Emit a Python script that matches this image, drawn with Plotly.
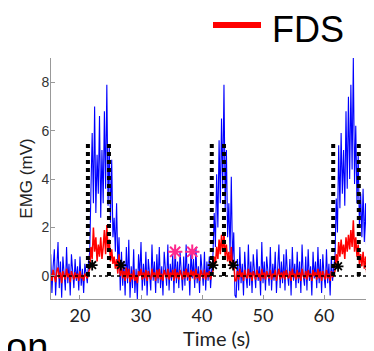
import plotly.graph_objects as go

# ---- data (time step 0.2 s inside each segment) ----
seg_starts = [15.2, 21.6, 27.2, 41.8, 45.6, 61.8, 67.8]

blue_a = [0.9, -0.7, 0.4, 1.1, -0.8, 0.2, 1.4, -0.5, 0.6, -0.9, 0.8, 0.1, -0.6, 1.2, -0.3, 0.5,
          -0.8, 0.9, 0.0, -0.5, 0.7, -0.2, 0.4, -0.6, 0.8, -0.4, 0.3, -0.7, 0.5, 0.1, -0.3, 0.6]
blue_b = [1.0, 3.6, 5.9, 3.0, 7.0, 2.6, 5.0, 3.4, 6.6, 2.4, 5.2, 3.0, 6.8, 3.6, 7.9, 2.9, 5.4, 2.2,
          4.8, 1.6, 2.4, 1.0, 3.0, 0.5, 1.6, -0.6, 1.0, -0.4]
blue_c = [0.6, -0.8, 1.2, -0.3, 1.5, -0.9, 0.4, -0.5, 1.1, -0.7,
          0.3, -0.95, 0.9, 0.0, 1.4, -0.6, 0.5, -0.4, 1.0, -0.8,
          0.7, 0.1, -0.6, 1.3, -0.2, 0.6, -0.7, 0.9, -0.3, 1.2,
          -0.5, 0.4, -0.8, 1.0, 0.2, -0.4, 1.3, -0.6, 0.5, -0.2,
          0.9, -0.7, 1.2, -0.3, 0.6, -0.5, 1.0, 0.0, -0.6, 0.8,
          -0.4, 1.3, -0.2, 0.5, -0.8, 1.1, -0.1, 0.7, -0.5, 1.2,
          -0.3, 0.4, -0.7, 0.9, 0.1, -0.4, 1.0, -0.6, 0.6, -0.2,
          0.8, -0.5, 0.3]
blue_d = [0.9, 2.6, 1.2, 4.2, 2.0, 5.6, 3.0, 6.5, 3.6, 7.9, 2.8, 5.2, 1.6, 3.0, 0.9, 4.1, 0.6, 1.8, -0.8]
blue_e = [-0.9, 0.7, -0.6, 1.2, -0.3, 0.5, -0.8, 1.0, 0.0, -0.5,
          1.3, -0.4, 0.6, -0.7, 0.9, 0.1, -0.5, 1.1, -0.2, 0.4,
          -0.8, 1.4, -0.3, 0.6, -0.6, 0.8, 0.0, -0.4, 1.2, -0.6,
          0.5, -0.2, 1.0, -0.7, 0.3, 1.3, -0.5, 0.6, -0.3, 0.9,
          -0.6, 1.1, 0.1, -0.4, 0.7, -0.8, 1.2, -0.2, 0.5, -0.5,
          1.0, -0.3, 0.6, -0.7, 1.3, 0.0, -0.4, 0.8, -0.6, 1.1,
          -0.2, 0.4, -0.8, 1.0, -0.1, 0.6, -0.5, 1.2, -0.3, 0.7,
          -0.7, 0.9, 0.0, -0.5, 1.1, -0.3, 0.5, -0.8, 0.8, -0.2,
          0.4]
blue_f = [0.8, 3.2, 1.8, 5.4, 2.8, 5.9, 3.4, 5.2, 2.9, 6.8, 3.6, 7.4, 4.0, 7.9, 4.4, 9.0, 3.8, 6.2,
          3.0, 5.0, 2.0, 3.4, 1.6, 3.6, 1.4, 3.0, 0.9, 2.4, 0.3, 1.2]
blue_g = [-0.4, 0.8, -0.2, 0.5, -0.6, 0.9, 0.1, -0.3, 0.6]

red_a = [0.1, -0.2, 0.25, 0.05, -0.25, 0.2, 0.35, -0.1, 0.15, -0.3, 0.2, 0.0, -0.15, 0.3, -0.05, 0.1,
         -0.25, 0.2, 0.05, -0.15, 0.15, -0.1, 0.1, -0.2, 0.2, -0.1, 0.05, -0.2, 0.1, 0.0, -0.1, 0.15]
red_b = [0.3, 1.2, 0.7, 2.0, 1.0, 1.6, 0.6, 1.3, 0.8, 1.6, 0.7, 1.2, 1.9, 0.9, 2.1, 1.0, 1.5, 0.6,
         1.1, 0.5, 0.8, 0.3, 0.7, 0.1, 0.9, 0.0, 0.4, -0.1]
red_c = [0.2, -0.2, 0.35, -0.1, 0.3, -0.25, 0.1, -0.15, 0.25, -0.2,
         0.05, -0.3, 0.2, 0.0, 0.3, -0.15, 0.15, -0.1, 0.25, -0.2,
         0.2, 0.0, -0.15, 0.3, -0.05, 0.15, -0.2, 0.25, -0.1, 0.3,
         -0.15, 0.1, -0.2, 0.25, 0.05, -0.1, 0.3, -0.15, 0.15, -0.05,
         0.25, -0.2, 0.3, -0.1, 0.15, -0.15, 0.25, 0.0, -0.15, 0.2,
         -0.1, 0.3, -0.05, 0.15, -0.2, 0.25, 0.0, 0.2, -0.15, 0.3,
         -0.1, 0.1, -0.2, 0.25, 0.05, -0.1, 0.25, -0.15, 0.15, -0.05,
         0.2, -0.15, 0.1]
red_d = [0.2, 0.8, 0.5, 1.2, 0.7, 1.5, 0.9, 1.7, 1.0, 1.8, 0.8, 1.3, 0.6, 1.0, 0.4, 1.2, 0.3, 0.6, -0.2]
red_e = [-0.2, 0.2, -0.15, 0.3, -0.05, 0.15, -0.2, 0.25, 0.0, -0.1,
         0.3, -0.1, 0.15, -0.2, 0.2, 0.0, -0.15, 0.25, -0.05, 0.1,
         -0.2, 0.3, -0.1, 0.15, -0.15, 0.2, 0.0, -0.1, 0.25, -0.15,
         0.1, -0.05, 0.25, -0.2, 0.05, 0.3, -0.15, 0.15, -0.1, 0.2,
         -0.15, 0.25, 0.0, -0.1, 0.2, -0.2, 0.3, -0.05, 0.1, -0.15,
         0.25, -0.1, 0.15, -0.2, 0.3, 0.0, -0.1, 0.2, -0.15, 0.25,
         -0.05, 0.1, -0.2, 0.25, 0.0, 0.15, -0.15, 0.3, -0.1, 0.2,
         -0.2, 0.2, 0.0, -0.15, 0.25, -0.1, 0.1, -0.2, 0.2, -0.05,
         0.1]
red_f = [0.2, 0.9, 0.5, 1.4, 0.8, 1.5, 0.9, 1.3, 0.7, 1.6, 1.0, 1.7, 1.1, 1.9, 1.2, 2.3, 1.0, 1.6,
         0.8, 1.3, 0.5, 0.9, 0.4, 1.0, 0.3, 0.8, 0.1, 0.5, -0.1, 0.3]
red_g = [-0.1, 0.2, 0.0, 0.1, -0.15, 0.2, 0.0, -0.1, 0.15]

dt = 0.2
onsets = [21.3, 41.6, 61.5]
offsets = [24.75, 43.6, 65.7]
box_height = 5.5
marker_x = [22.0, 26.7, 41.8, 45.1, 62.3, 67.5]
marker_y = [0.45, 0.45, 0.45, 0.45, 0.4, 0.4]
star_x = [35.6, 38.4]
star_y = [1.0, 1.0]
x_range = [15.25, 69.5]
y_range = [-0.95, 9.0]
y_ticks = [0, 2, 4, 6, 8]
x_ticks = [20, 30, 40, 50, 60]


def build(segments):
    xs, ys = [], []
    for start, seg in zip(seg_starts, segments):
        for k, v in enumerate(seg):
            xs.append(round(start + dt * k, 3))
            ys.append(v)
    return xs, ys


bx, by = build([blue_a, blue_b, blue_c, blue_d, blue_e, blue_f, blue_g])
rx, ry = build([red_a, red_b, red_c, red_d, red_e, red_f, red_g])

vx, vy = [], []
for a in onsets + offsets:
    vx += [a, a, None]
    vy += [0, box_height, None]

fig = go.Figure()
fig.add_trace(go.Scatter(x=bx, y=by, mode="lines", line=dict(color="#0000ff", width=1.1),
                         showlegend=False))
fig.add_trace(go.Scatter(x=rx, y=ry, mode="lines", line=dict(color="#ff0000", width=1.5),
                         showlegend=False))
fig.add_trace(go.Scatter(x=x_range, y=[0, 0], mode="lines",
                         line=dict(color="black", width=1.5, dash="dot"), showlegend=False))
fig.add_trace(go.Scatter(x=vx, y=vy, mode="lines",
                         line=dict(color="black", width=4, dash="dot"), showlegend=False))
fig.add_trace(go.Scatter(x=marker_x, y=marker_y, mode="markers",
                         marker=dict(symbol="asterisk-open", size=9, color="black",
                                     line=dict(color="black", width=1.8)),
                         showlegend=False))
fig.add_trace(go.Scatter(x=star_x, y=star_y, mode="markers",
                         marker=dict(symbol="asterisk-open", size=12, color="#ff2a8c",
                                     line=dict(color="#ff2a8c", width=2)),
                         showlegend=False))

# the page body adds an 8 px offset; figure pixels below are image pixels minus 8
W, H = 374, 351
ml, mr, mt, mb = 43, 0, 50, 60
pw, ph = W - ml - mr, H - mt - mb


def px(xp):
    return (xp - ml) / pw


def py(yp):
    return (H - mb - yp) / ph


fig.add_shape(type="line", xref="paper", yref="paper", x0=px(205), x1=px(253),
              y0=py(17), y1=py(17), line=dict(color="#ff0000", width=6))
fig.add_annotation(text="FDS", xref="paper", yref="paper", x=px(262), y=py(22),
                   xanchor="left", yanchor="middle", showarrow=False,
                   font=dict(family="Liberation Sans", size=36, color="black"))
fig.add_annotation(text="on", xref="paper", yref="paper", x=px(-4), y=py(316),
                   xanchor="left", yanchor="top", showarrow=False,
                   font=dict(family="Liberation Sans", size=38, color="black"))

fig.update_layout(
    width=W, height=H,
    margin=dict(l=ml, r=mr, t=mt, b=mb),
    paper_bgcolor="white", plot_bgcolor="white",
    xaxis=dict(range=x_range, tickvals=x_ticks, showgrid=False, zeroline=False,
               showline=True, linecolor="#999999", linewidth=1,
               ticks="inside", ticklen=4, tickcolor="#999999",
               tickfont=dict(family="Lato", size=18, color="#222222"),
               title=dict(text="Time (s)", font=dict(family="Lato", size=20, color="#222222"),
                          standoff=6)),
    yaxis=dict(range=y_range, tickvals=y_ticks, showgrid=False, zeroline=False,
               showline=True, linecolor="#999999", linewidth=1,
               ticks="inside", ticklen=4, tickcolor="#999999", ticklabelstandoff=-2,
               tickfont=dict(family="Liberation Sans", size=14, color="#333333"),
               title=dict(text="EMG (mV)", font=dict(family="Liberation Sans", size=17,
                                                     color="#222222"),
                          standoff=4)),
)

fig.write_html("out.html")
